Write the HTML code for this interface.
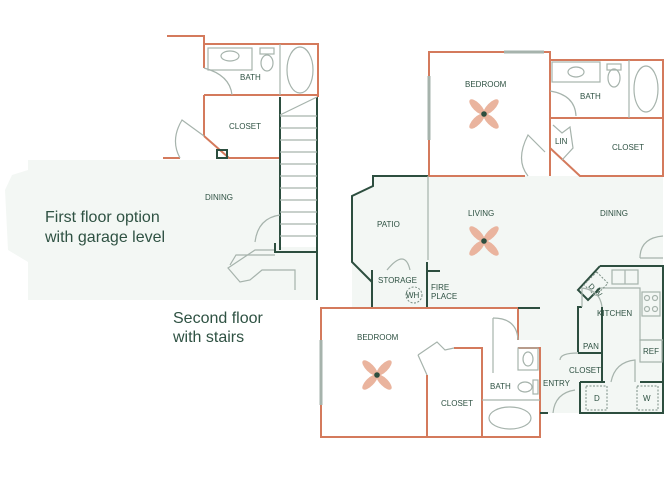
<!DOCTYPE html>
<html><head><meta charset="utf-8"><style>
html,body{margin:0;padding:0;background:#fff;}
svg{display:block}
text{font-family:"Liberation Sans",sans-serif;fill:#2f5243;}
.o{stroke:#d47a5c;stroke-width:2;fill:none}
.g{stroke:#2d4e3f;stroke-width:2;fill:none}
.l{stroke:#a6b3ac;stroke-width:1.2;fill:none}
.s{font-size:8px;}
</style></head><body>
<svg width="670" height="480" viewBox="0 0 670 480" xmlns="http://www.w3.org/2000/svg">
<defs>
<g id="fan">
<ellipse rx="4" ry="10" transform="rotate(45) translate(0,-10)" fill="#eab49e"/>
<ellipse rx="4" ry="10" transform="rotate(135) translate(0,-10)" fill="#eab49e"/>
<ellipse rx="4" ry="10" transform="rotate(225) translate(0,-10)" fill="#eab49e"/>
<ellipse rx="4" ry="10" transform="rotate(315) translate(0,-10)" fill="#eab49e"/>
<circle r="2.8" fill="#2d4e3f"/>
</g>
</defs>
<!-- pale fills -->
<path d="M28,160 L317,160 L317,300 L28,300 L28,262 L8,250 L5,190 L12,175 L28,170 Z" fill="#f3f7f4"/>
<path d="M373,176 L663,176 L663,413 L540,413 L540,340 L518,340 L518,308 L352,308 L352,196 L373,186 Z" fill="#f3f7f4"/>
<!-- left plan -->
<polyline class="o" points="167,36 204,36 204,44 318,44 318,97"/>
<line class="o" x1="204" y1="44" x2="204" y2="68"/>
<line class="o" x1="204" y1="95" x2="318" y2="95"/>
<line class="o" x1="204" y1="95" x2="204" y2="136"/>
<polyline class="o" points="204,136 229,158 280,158"/>
<polyline class="o" points="163,158 180,158"/>
<path class="l" d="M204,68 Q230,75 232,95"/>
<rect class="l" x="208" y="48" width="44" height="22"/>
<ellipse class="l" cx="230" cy="56" rx="9" ry="5"/>
<rect class="l" x="260" y="48" width="14" height="6"/>
<ellipse class="l" cx="267" cy="63" rx="6" ry="8"/>
<line class="l" x1="280" y1="44" x2="280" y2="95"/>
<ellipse class="l" cx="300" cy="70" rx="13" ry="23"/>
<text x="240" y="80" class="s">BATH</text>
<text x="229" y="129" class="s">CLOSET</text>
<text x="205" y="200" class="s">DINING</text>
<path class="l" d="M180,158 Q170,140 182,120 L204,136"/>
<rect class="g" x="217" y="150" width="10" height="8" stroke-width="1.3"/>
<!-- stairs -->
<rect x="280" y="97" width="37" height="150" fill="#fff"/>
<line class="g" x1="280" y1="97" x2="280" y2="250"/>
<line class="g" x1="317" y1="97" x2="317" y2="300"/>
<line class="l" x1="280" y1="115" x2="317" y2="97"/>
<g class="l">
<line x1="280" y1="116" x2="317" y2="116"/><line x1="280" y1="128" x2="317" y2="128"/>
<line x1="280" y1="140" x2="317" y2="140"/><line x1="280" y1="152" x2="317" y2="152"/>
<line x1="280" y1="164" x2="317" y2="164"/><line x1="280" y1="176" x2="317" y2="176"/>
<line x1="280" y1="188" x2="317" y2="188"/><line x1="280" y1="200" x2="317" y2="200"/>
<line x1="280" y1="212" x2="317" y2="212"/><line x1="280" y1="224" x2="317" y2="224"/>
<line x1="280" y1="236" x2="317" y2="236"/>
<path d="M255,242 Q258,218 280,215"/>
<polyline points="275,250 255,250 228,268 240,282 250,280 262,270 295,270 295,290"/>
<polyline points="230,265 236,255 275,255"/>
</g>
<polyline class="g" points="275,243 275,252 317,252" stroke-width="1.5"/>
<text x="45" y="222" font-size="16">First floor option</text>
<text x="45" y="242" font-size="16">with garage level</text>
<text x="173" y="323" font-size="16">Second floor</text>
<text x="173" y="342" font-size="16">with stairs</text>
<!-- right upper bedroom -->
<polyline class="o" points="525,176 429,176 429,52 550,52 550,176"/>
<line x1="504" y1="52" x2="544" y2="52" stroke="#a6b3ac" stroke-width="3"/>
<line x1="429" y1="76" x2="429" y2="140" stroke="#a6b3ac" stroke-width="3"/>
<path class="l" d="M528,176 Q515,160 528,135 L545,152"/>
<text x="465" y="87" class="s">BEDROOM</text>
<use href="#fan" x="484" y="114"/>
<!-- bath / closet upper right -->
<polyline class="o" points="550,60 663,60 663,176 580,176 550,148"/>
<line class="o" x1="550" y1="118" x2="663" y2="118"/>
<rect class="l" x="552" y="62" width="48" height="20"/>
<ellipse class="l" cx="576" cy="72" rx="8" ry="5"/>
<rect class="l" x="607" y="64" width="14" height="6"/>
<ellipse class="l" cx="614" cy="78" rx="6" ry="9"/>
<line class="l" x1="629" y1="60" x2="629" y2="118"/>
<ellipse class="l" cx="646" cy="89" rx="12" ry="23"/>
<path class="l" d="M550,91 Q575,95 576,116"/>
<text x="580" y="99" class="s">BATH</text>
<text x="555" y="144" class="s">LIN</text>
<text x="612" y="150" class="s">CLOSET</text>
<polyline class="l" points="553,125 562,133 570,127 573,148 562,160"/>
<!-- patio -->
<polyline class="g" points="428,176 373,176 373,186 352,196 352,262 372,282"/>
<line class="l" x1="428" y1="176" x2="428" y2="260"/>
<text x="377" y="227" class="s">PATIO</text>
<path class="l" d="M387,270 Q405,248 410,270"/>
<!-- living -->
<text x="468" y="216" class="s">LIVING</text>
<text x="600" y="216" class="s">DINING</text>
<use href="#fan" x="484" y="241"/>
<path class="l" d="M640,258 Q640,238 663,236"/>
<line class="l" x1="640" y1="258" x2="663" y2="258"/>
<!-- storage / fireplace -->
<line class="g" x1="372" y1="270" x2="372" y2="308"/>
<line class="g" x1="427" y1="262" x2="427" y2="308"/>
<line class="g" x1="427" y1="271" x2="440" y2="271"/>
<text x="378" y="283" class="s">STORAGE</text>
<circle cx="414" cy="295" r="8" fill="none" stroke="#7a8e84" stroke-dasharray="2,1.5"/>
<text x="406" y="298" class="s" font-size="7">WH</text>
<text x="431" y="290" class="s">FIRE</text>
<text x="431" y="299" class="s">PLACE</text>
<!-- lower bedroom -->
<polyline class="o" points="518,340 518,308 321,308 321,437 540,437 540,348 518,348"/>
<line x1="321" y1="340" x2="321" y2="405" stroke="#a6b3ac" stroke-width="3"/>
<line class="g" x1="518" y1="308" x2="540" y2="308"/>
<polyline class="o" points="427,375 427,437"/>
<polyline class="o" points="454,348 482,348 482,437"/>
<line class="l" x1="482" y1="400" x2="540" y2="400"/>
<path class="l" d="M418,355 L437,342 L445,350 L454,348"/>
<path class="l" d="M418,355 L427,375"/>
<path class="l" d="M493,318 Q517,318 518,340"/>
<path class="l" d="M493,318 L493,373"/>
<text x="357" y="340" class="s">BEDROOM</text>
<use href="#fan" x="377" y="375"/>
<text x="441" y="406" class="s">CLOSET</text>
<text x="490" y="389" class="s">BATH</text>
<rect class="l" x="518" y="348" width="20" height="22"/>
<ellipse class="l" cx="528" cy="359" rx="5" ry="7"/>
<ellipse class="l" cx="525" cy="387" rx="7" ry="5"/>
<rect class="l" x="533" y="380" width="5" height="14"/>
<ellipse class="l" cx="510" cy="418" rx="21" ry="11"/>
<!-- entry -->
<text x="543" y="386" class="s">ENTRY</text>
<line class="g" x1="540" y1="413" x2="548" y2="413"/>
<path class="l" d="M553,413 Q555,393 575,390"/>
<!-- kitchen -->
<polyline class="g" points="600,266 663,266 663,413 580,413 580,382"/>
<polyline class="g" points="600,266 578,290 588,300 600,288"/>
<polyline class="l" points="600,288 640,288 640,340 663,340"/>
<rect class="l" x="612" y="270" width="26" height="14"/>
<line class="l" x1="625" y1="270" x2="625" y2="284"/>
<rect class="l" x="642" y="292" width="18" height="24"/>
<circle class="l" cx="647" cy="298" r="2.5"/><circle class="l" cx="655" cy="298" r="2.5"/>
<circle class="l" cx="647" cy="309" r="2.5"/><circle class="l" cx="655" cy="309" r="2.5"/>
<rect class="l" x="640" y="340" width="22" height="22"/>
<text x="643" y="354" class="s">REF</text>
<text x="597" y="316" class="s">KITCHEN</text>
<text x="588" y="290" class="s" font-size="7" transform="rotate(45 592 288)">D W</text>
<rect x="588" y="275" width="16" height="18" fill="none" stroke="#7a8e84" stroke-dasharray="2,1.5" transform="rotate(45 596 284)"/>
<polyline class="g" points="578,352 578,307 582,307"/>
<polyline class="g" points="602,307 602,382 580,382" stroke-width="1.8"/>
<line class="g" x1="578" y1="353" x2="602" y2="353" stroke-width="1.5"/>
<path class="l" d="M582,307 L582,288 Q600,290 602,307"/>
<text x="583" y="349" class="s">PAN</text>
<text x="569" y="373" class="s">CLOSET</text>
<path class="l" d="M560,360 Q560,353 578,353"/>
<path class="l" d="M611,382 Q615,362 635,360 L635,382"/>
<line class="g" x1="580" y1="382" x2="605" y2="382" stroke-width="1.5"/>
<line class="g" x1="640" y1="382" x2="663" y2="382" stroke-width="1.5"/>
<rect x="586" y="386" width="21" height="24" fill="none" stroke="#7a8e84" stroke-dasharray="2,1.5"/>
<rect x="637" y="386" width="21" height="24" fill="none" stroke="#7a8e84" stroke-dasharray="2,1.5"/>
<text x="594" y="401" class="s">D</text>
<text x="643" y="401" class="s">W</text>
</svg>
</body></html>
